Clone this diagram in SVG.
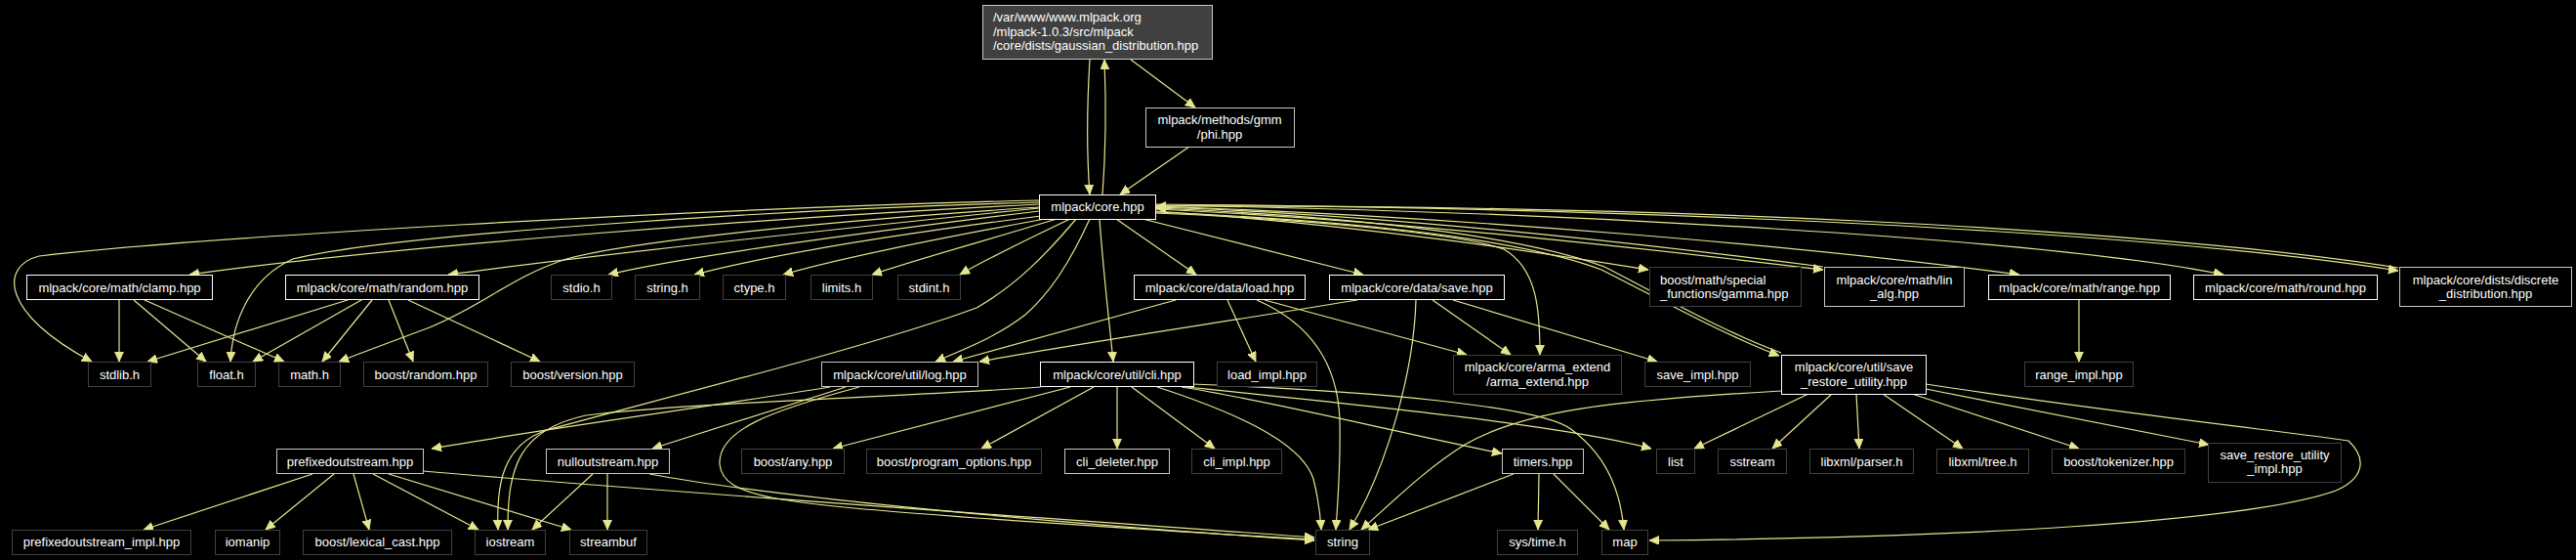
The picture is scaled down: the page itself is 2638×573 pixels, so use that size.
<svg xmlns="http://www.w3.org/2000/svg" width="2638" height="573" viewBox="0 0 2638 573">
<defs>
<marker id="ah" markerWidth="11" markerHeight="10" refX="10" refY="4.5" orient="auto" markerUnits="userSpaceOnUse"><path d="M0,0 L10,4.5 L0,9 z" fill="#e6e68f" stroke="#e6e68f" stroke-width="0.8"/></marker>
</defs>
<style>
.e path{fill:none;stroke:#e6e68f;stroke-width:1.2;marker-end:url(#ah)}
.n rect{fill:#000;stroke:#fff;stroke-width:1}
.n.d rect{stroke:#c8c8c8}
.u rect{fill:#000;stroke:#404040;stroke-width:1}
text{font-family:"Liberation Sans",Arial,sans-serif;font-size:13px;fill:#fff;text-anchor:middle}
.l{text-anchor:start}
</style>
<rect x="0" y="0" width="2638" height="573" fill="#000"/>
<g id="edges" class="e">
<path d="M1116,61 C1113,110 1113,160 1116,199"/>
<path d="M1129,199 C1132,160 1133,110 1131,61"/>
<path d="M1158,61 L1224,110"/>
<path d="M1218,150 L1147,199"/>
<path d="M1064,205 C700,214 200,243 40,262 C0,272 0,320 94,370"/>
<path d="M1064,207 C800,214 400,240 300,265 C255,285 238,330 236,370"/>
<path d="M1064,209 C800,222 400,252 194,281"/>
<path d="M1064,213 C850,235 600,262 459,281"/>
<path d="M1064,212 C850,226 650,246 580,265 C520,285 500,310 440,335 C400,350 370,361 347,370"/>
<path d="M1064,216 C900,236 700,262 623,281"/>
<path d="M1066,221 C900,242 780,263 711,281"/>
<path d="M1070,224 C950,246 860,264 802,281"/>
<path d="M1082,224 C1010,246 940,265 893,281"/>
<path d="M1096,224 C1050,246 1010,265 983,281"/>
<path d="M1116,224 C1095,270 1075,300 1050,322 C1020,345 990,356 958,370"/>
<path d="M1102,224 C1070,262 1040,292 1000,315 C900,352 700,402 560,440 C515,455 508,495 510,542"/>
<path d="M1126,224 C1130,280 1136,330 1140,370"/>
<path d="M1143,224 L1225,281"/>
<path d="M1170,224 L1396,281"/>
<path d="M1183,218 C1350,225 1500,240 1540,255 C1575,275 1577,320 1577,363"/>
<path d="M1183,216 C1400,230 1600,262 1688,276"/>
<path d="M1183,214 C1450,226 1750,262 1867,276"/>
<path d="M1867,273 C1750,258 1450,220 1184,212"/>
<path d="M1183,211 C1500,222 1850,252 2068,281"/>
<path d="M1183,210 C1600,216 2100,245 2277,281"/>
<path d="M1183,209 C1700,213 2200,237 2456,277"/>
<path d="M2456,274 C2200,234 1700,209 1184,211"/>
<path d="M1183,217 C1400,226 1560,246 1640,276 C1700,306 1760,340 1822,364"/>
<path d="M1824,361 C1762,338 1702,303 1643,273 C1563,243 1402,222 1184,213"/>
<path d="M122,307 L122,370"/>
<path d="M137,307 L211,370"/>
<path d="M148,307 L291,370"/>
<path d="M356,307 L151,370"/>
<path d="M370,307 L259,370"/>
<path d="M381,307 L330,370"/>
<path d="M398,307 L423,370"/>
<path d="M418,307 L553,370"/>
<path d="M1204,307 L976,370"/>
<path d="M1257,307 L1286,370"/>
<path d="M1287,307 C1340,330 1370,370 1372,430 C1373,480 1370,510 1368,542"/>
<path d="M1295,307 L1502,363"/>
<path d="M1390,307 C1250,330 1100,352 1003,370"/>
<path d="M1450,307 C1448,380 1420,480 1382,542"/>
<path d="M1467,307 L1547,363"/>
<path d="M1488,307 L1697,370"/>
<path d="M850,396 C700,420 550,440 442,459"/>
<path d="M866,396 L668,459"/>
<path d="M880,396 C790,420 735,440 737,475 C740,510 800,515 1000,530 C1150,540 1250,547 1346,552"/>
<path d="M320,485 L147,542"/>
<path d="M342,485 L272,542"/>
<path d="M362,485 L378,542"/>
<path d="M382,485 L490,542"/>
<path d="M398,485 L585,542"/>
<path d="M433,482 C700,505 1100,532 1346,550"/>
<path d="M607,485 L545,542"/>
<path d="M622,485 L622,542"/>
<path d="M665,485 C800,510 1100,537 1346,553"/>
<path d="M1066,396 C950,405 700,412 600,425 C530,440 520,480 520,542"/>
<path d="M1096,396 L853,459"/>
<path d="M1120,396 L1005,459"/>
<path d="M1144,396 L1144,459"/>
<path d="M1159,396 L1244,459"/>
<path d="M1185,396 C1290,430 1335,460 1345,490 C1350,510 1352,525 1353,542"/>
<path d="M1210,396 C1300,410 1420,440 1538,464"/>
<path d="M1215,396 C1400,415 1600,435 1691,459"/>
<path d="M1220,393 C1400,400 1580,415 1610,440 C1650,470 1660,510 1663,542"/>
<path d="M1550,485 L1401,542"/>
<path d="M1576,485 L1575,542"/>
<path d="M1591,485 L1648,542"/>
<path d="M1852,403 L1735,459"/>
<path d="M1876,403 L1815,459"/>
<path d="M1901,403 L1904,459"/>
<path d="M1928,403 L2010,459"/>
<path d="M1958,403 L2129,459"/>
<path d="M1972,398 L2262,455"/>
<path d="M1972,393 C2150,420 2350,443 2405,451 C2425,470 2420,490 2392,502 C2300,535 2000,550 1689,553"/>
<path d="M1824,400 C1650,410 1560,420 1500,455 C1460,480 1430,510 1394,542"/>
<path d="M2129,307 L2129,370"/>
</g>
<g id="n_gaussian"><rect x="1006.5" y="5.5" width="235" height="55" fill="#404040" stroke="#c8c8c8"/><text class="l" x="1017" y="22">/var/www/www.mlpack.org</text><text class="l" x="1017" y="36.5">/mlpack-1.0.3/src/mlpack</text><text class="l" x="1017" y="51">/core/dists/gaussian_distribution.hpp</text></g>
<g id="n_phi" class="n d"><rect x="1173.5" y="110.5" width="152" height="40"/><text x="1249" y="126.5">mlpack/methods/gmm</text><text x="1249" y="141.5">/phi.hpp</text></g>
<g id="n_core" class="n"><rect x="1064.5" y="199.5" width="119" height="25"/><text x="1124" y="216">mlpack/core.hpp</text></g>
<g id="n_clamp" class="n"><rect x="27.5" y="281.5" width="190" height="25"/><text x="122.5" y="298.5">mlpack/core/math/clamp.hpp</text></g>
<g id="n_random" class="n"><rect x="292.5" y="281.5" width="198" height="25"/><text x="391.5" y="298.5">mlpack/core/math/random.hpp</text></g>
<g id="n_stdio" class="u"><rect x="564.5" y="281.5" width="62" height="25"/><text x="595.5" y="298.5">stdio.h</text></g>
<g id="n_stringh" class="u"><rect x="650.5" y="281.5" width="66" height="25"/><text x="683.5" y="298.5">string.h</text></g>
<g id="n_ctype" class="u"><rect x="740.5" y="281.5" width="64" height="25"/><text x="772.5" y="298.5">ctype.h</text></g>
<g id="n_limits" class="u"><rect x="830.5" y="281.5" width="63" height="25"/><text x="862" y="298.5">limits.h</text></g>
<g id="n_stdint" class="u"><rect x="919.5" y="281.5" width="64" height="25"/><text x="951.5" y="298.5">stdint.h</text></g>
<g id="n_load" class="n"><rect x="1161.5" y="281.5" width="175" height="25"/><text x="1249" y="298.5">mlpack/core/data/load.hpp</text></g>
<g id="n_save" class="n"><rect x="1361.5" y="281.5" width="179" height="25"/><text x="1451" y="298.5">mlpack/core/data/save.hpp</text></g>
<g id="n_gamma" class="u"><rect x="1689.5" y="273.5" width="155" height="40"/><text class="l" x="1700" y="290.5">boost/math/special</text><text class="l" x="1700" y="304.5">_functions/gamma.hpp</text></g>
<g id="n_linalg" class="n d"><rect x="1868.5" y="273.5" width="143" height="40"/><text x="1940" y="290.5">mlpack/core/math/lin</text><text x="1940" y="304.5">_alg.hpp</text></g>
<g id="n_range" class="n"><rect x="2036.5" y="281.5" width="186" height="25"/><text x="2129.5" y="298.5">mlpack/core/math/range.hpp</text></g>
<g id="n_round" class="n"><rect x="2246.5" y="281.5" width="188" height="25"/><text x="2340.5" y="298.5">mlpack/core/math/round.hpp</text></g>
<g id="n_discrete" class="n d"><rect x="2457.5" y="273.5" width="176" height="40"/><text x="2545.5" y="290.5">mlpack/core/dists/discrete</text><text x="2545.5" y="304.5">_distribution.hpp</text></g>
<g id="n_stdlib" class="u"><rect x="90.5" y="370.5" width="64" height="25"/><text x="122.5" y="387.5">stdlib.h</text></g>
<g id="n_float" class="u"><rect x="202.5" y="370.5" width="59" height="25"/><text x="232" y="387.5">float.h</text></g>
<g id="n_math" class="u"><rect x="285.5" y="370.5" width="63" height="25"/><text x="317" y="387.5">math.h</text></g>
<g id="n_brandom" class="u"><rect x="372.5" y="370.5" width="127" height="25"/><text x="436" y="387.5">boost/random.hpp</text></g>
<g id="n_bversion" class="u"><rect x="523.5" y="370.5" width="126" height="25"/><text x="586.5" y="387.5">boost/version.hpp</text></g>
<g id="n_log" class="n d"><rect x="841.5" y="370.5" width="160" height="25"/><text x="921.5" y="387.5">mlpack/core/util/log.hpp</text></g>
<g id="n_cli" class="n"><rect x="1065.5" y="370.5" width="157" height="25"/><text x="1144" y="387.5">mlpack/core/util/cli.hpp</text></g>
<g id="n_loadimpl" class="u"><rect x="1246.5" y="370.5" width="102" height="25"/><text x="1297.5" y="387.5">load_impl.hpp</text></g>
<g id="n_arma" class="u"><rect x="1488.5" y="363.5" width="172" height="40"/><text x="1574.5" y="379.5">mlpack/core/arma_extend</text><text x="1574.5" y="394.5">/arma_extend.hpp</text></g>
<g id="n_saveimpl" class="u"><rect x="1684.5" y="370.5" width="108" height="25"/><text x="1738.5" y="387.5">save_impl.hpp</text></g>
<g id="n_sr" class="n"><rect x="1824.5" y="363.5" width="148" height="40"/><text x="1898.5" y="379.5">mlpack/core/util/save</text><text x="1898.5" y="394.5">_restore_utility.hpp</text></g>
<g id="n_rangeimpl" class="u"><rect x="2073.5" y="370.5" width="111" height="25"/><text x="2129" y="387.5">range_impl.hpp</text></g>
<g id="n_prefixed" class="n d"><rect x="283.5" y="459.5" width="150" height="25"/><text x="358.5" y="476.5">prefixedoutstream.hpp</text></g>
<g id="n_nullout" class="n d"><rect x="559.5" y="459.5" width="126" height="25"/><text x="622.5" y="476.5">nulloutstream.hpp</text></g>
<g id="n_any" class="u"><rect x="759.5" y="459.5" width="105" height="25"/><text x="812" y="476.5">boost/any.hpp</text></g>
<g id="n_po" class="u"><rect x="887.5" y="459.5" width="179" height="25"/><text x="977" y="476.5">boost/program_options.hpp</text></g>
<g id="n_clideleter" class="n d"><rect x="1090.5" y="459.5" width="107" height="25"/><text x="1144" y="476.5">cli_deleter.hpp</text></g>
<g id="n_cliimpl" class="u"><rect x="1220.5" y="459.5" width="92" height="25"/><text x="1266.5" y="476.5">cli_impl.hpp</text></g>
<g id="n_timers" class="n d"><rect x="1538.5" y="459.5" width="83" height="25"/><text x="1580" y="476.5">timers.hpp</text></g>
<g id="n_list" class="u"><rect x="1696.5" y="459.5" width="39" height="25"/><text x="1716" y="476.5">list</text></g>
<g id="n_sstream" class="u"><rect x="1759.5" y="459.5" width="70" height="25"/><text x="1794.5" y="476.5">sstream</text></g>
<g id="n_parser" class="u"><rect x="1853.5" y="459.5" width="106" height="25"/><text x="1906.5" y="476.5">libxml/parser.h</text></g>
<g id="n_tree" class="u"><rect x="1983.5" y="459.5" width="94" height="25"/><text x="2030.5" y="476.5">libxml/tree.h</text></g>
<g id="n_tokenizer" class="u"><rect x="2101.5" y="459.5" width="136" height="25"/><text x="2169.5" y="476.5">boost/tokenizer.hpp</text></g>
<g id="n_srimpl" class="u"><rect x="2261.5" y="453.5" width="136" height="40"/><text x="2329.5" y="469.5">save_restore_utility</text><text x="2329.5" y="483.5">_impl.hpp</text></g>
<g id="n_prefimpl" class="u"><rect x="12.5" y="542.5" width="183" height="25"/><text x="104" y="559">prefixedoutstream_impl.hpp</text></g>
<g id="n_iomanip" class="u"><rect x="220.5" y="542.5" width="66" height="25"/><text x="253.5" y="559">iomanip</text></g>
<g id="n_lexical" class="u"><rect x="310.5" y="542.5" width="152" height="25"/><text x="386.5" y="559">boost/lexical_cast.hpp</text></g>
<g id="n_iostream" class="u"><rect x="486.5" y="542.5" width="72" height="25"/><text x="522.5" y="559">iostream</text></g>
<g id="n_streambuf" class="u"><rect x="583.5" y="542.5" width="79" height="25"/><text x="623" y="559">streambuf</text></g>
<g id="n_string" class="u"><rect x="1347.5" y="542.5" width="55" height="25"/><text x="1375" y="559">string</text></g>
<g id="n_systime" class="u"><rect x="1533.5" y="542.5" width="82" height="25"/><text x="1574.5" y="559">sys/time.h</text></g>
<g id="n_map" class="u"><rect x="1640.5" y="542.5" width="47" height="25"/><text x="1664" y="559">map</text></g>
</svg>
